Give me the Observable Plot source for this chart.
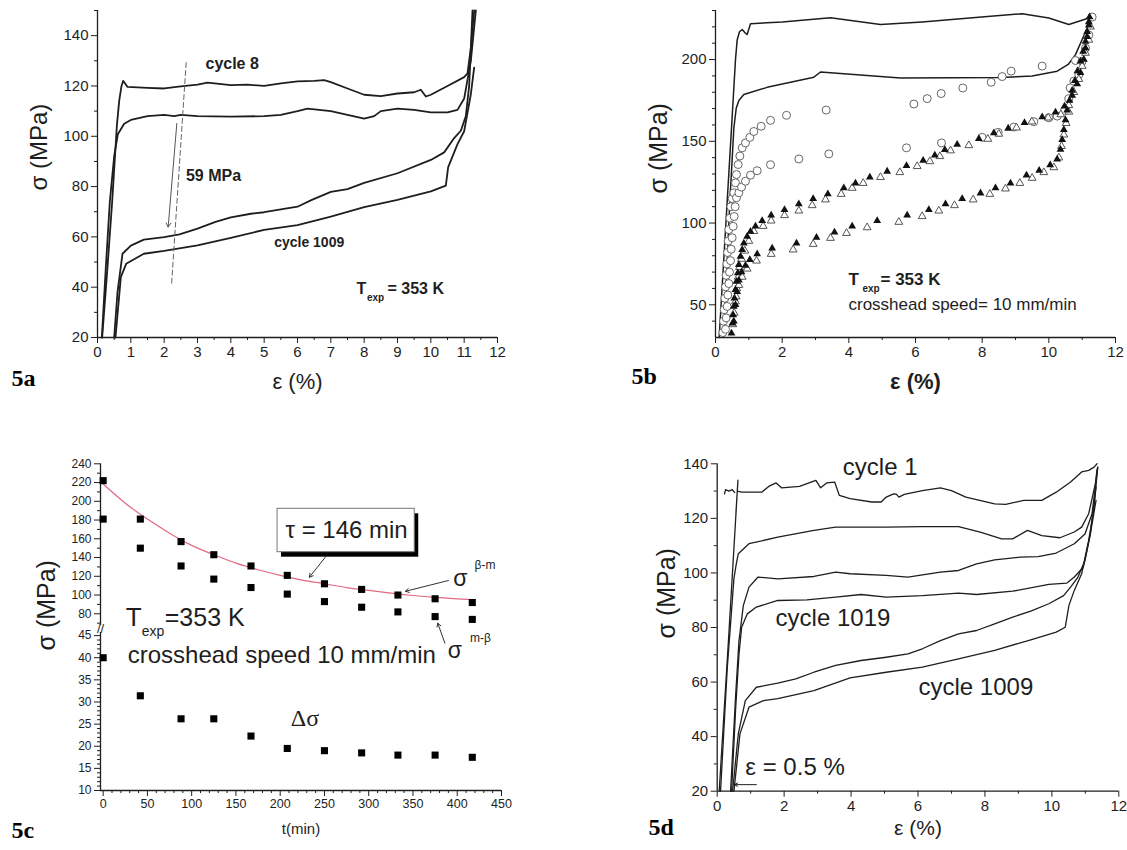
<!DOCTYPE html>
<html><head><meta charset="utf-8">
<script src="https://cdn.jsdelivr.net/npm/d3@7"></script>
<script src="https://cdn.jsdelivr.net/npm/@observablehq/plot@0.6"></script>
<style>
body{margin:0;background:#fff;}
#root{position:relative;width:1127px;height:850px;overflow:hidden;background:#fff;}
.panel{position:absolute;}
.panel svg{overflow:visible;}
</style></head><body><div id="root"></div>
<script>
// ---------------- Panel 5a : strain (%) vs stress (MPa) ----------------
const aTicksX = d3.range(0, 13, 1);
const aTicksXMinor = d3.range(0.5, 12, 1);
const aTicksY = [20, 40, 60, 80, 100, 120, 140];
const aTicksYMinor = [30, 50, 70, 90, 110, 130, 150];
const aCycle8Upper = [[0.14,20],[0.3,48],[0.44,74],[0.58,104],[0.65,114],[0.72,120],[0.77,122],[0.83,121],[0.9,119.6],[1.5,119.2],[2,119],[2.5,119.8],[3,120.5],[3.3,121.3],[4,120.3],[4.5,120.5],[5,120],[5.5,121],[6,121.8],[6.5,122],[6.8,122.3],[7,121.5],[7.5,119],[8,116.5],[8.5,116],[9,117],[9.5,117.5],[9.7,118.5],[9.85,115.8],[10,116.5],[10.5,120],[11,123.5],[11.1,125],[11.2,135],[11.3,150]];
const aCycle8Lower = [[0.13,20],[0.25,48],[0.37,74],[0.5,92],[0.61,100.8],[0.8,105],[1.0,106.5],[1.5,108],[2,108.5],[2.3,108],[2.5,108.5],[3,108],[4,107.8],[5,108],[5.5,108.5],[6,110],[6.3,111],[7,110],[7.5,108.5],[8,107],[8.3,108],[8.5,110],[9,111],[9.5,110.5],[10,109.5],[10.5,109.5],[10.8,110.5],[11,115],[11.2,130],[11.35,150]];
const aCycle1009Upper = [[0.5,20],[0.6,38],[0.75,53.3],[1.0,56.5],[1.39,58.9],[2.0,59.9],[2.46,61],[3.0,63.3],[3.54,66],[4.0,67.8],[4.6,69.2],[5.0,69.8],[6.0,72],[6.43,74.7],[7.0,77.9],[7.5,79],[8.0,81.5],[9.0,85.3],[10.0,90.6],[10.4,93.6],[10.7,99.3],[10.9,102.2],[11.05,108],[11.15,120],[11.25,150]];
const aCycle1009Lower = [[0.54,20],[0.7,44],[0.86,49.3],[1.39,53.3],[2.0,54.4],[3.0,56.6],[4.0,59.6],[5.0,62.8],[6.0,64.7],[7.0,68.1],[8.0,71.8],[9.0,74.7],[10.0,78.1],[10.45,80.4],[10.52,87.7],[10.6,90.3],[10.8,96.9],[11.0,102],[11.2,116.7],[11.3,127.3]];
const aDashedGuide = [[2.66,129.3],[2.22,40.7]];
const aDropArrow = [{x1:2.38, y1:105.1, x2:2.12, y2:63.9}];

// ---------------- Panel 5b ----------------
const bTicksX = [0, 2, 4, 6, 8, 10, 12];
const bTicksXMinor = [1, 3, 5, 7, 9, 11];
const bTicksY = [50, 100, 150, 200];
const bTicksYMinor = [40, 60, 70, 80, 90, 110, 120, 130, 140, 160, 170, 180, 190, 210, 220, 230];
const bLineUpper = [[0.11,30],[0.35,113],[0.5,165],[0.6,200],[0.65,212],[0.72,217],[0.8,218.4],[0.88,216.5],[0.95,215.3],[1.05,221.9],[2,223],[3.45,225.5],[4.95,221.4],[6.2,223],[8.25,226.5],[9.2,228],[10.0,225.4],[10.6,221.4],[11.2,225.4]];
const bLineLower = [[0.25,30],[0.43,113],[0.55,158],[0.62,170],[0.7,175],[0.85,178.6],[1.55,183],[2.95,189.2],[3.15,192.4],[5.55,188.7],[8.55,189],[9.5,190],[10.25,192.9],[10.58,197],[10.8,203],[11.24,223.4]];
const bCirclesUpper = [[0.22,33],[0.24,40],[0.26,47],[0.28,54],[0.3,61],[0.32,68],[0.34,75],[0.36,82],[0.38,89],[0.4,96],[0.43,103],[0.46,110],[0.5,115],[0.55,118.5],[0.6,124.6],[0.63,129.7],[0.68,135.8],[0.73,141],[0.8,146],[0.9,149],[1.03,152.4],[1.15,156],[1.37,159.2],[1.65,162.8],[2.13,165.9],[3.32,169.1],[5.95,172.8],[6.35,176.1],[6.77,179.2],[7.42,182.6],[8.27,186.1],[8.6,189.6],[8.87,192.9],[9.8,196],[10.8,199.4]];
const bCirclesLower = [[0.3,35],[0.32,42],[0.35,49],[0.37,56],[0.4,63],[0.42,70],[0.45,77],[0.47,84],[0.5,91],[0.53,98],[0.56,104],[0.59,110],[0.63,115.5],[0.7,118.5],[0.78,122],[0.9,125.6],[1.05,129.3],[1.25,132],[1.65,135.7],[2.5,139.2],[3.4,142.3],[5.73,146],[6.78,149],[8.0,152.4],[8.48,155.5],[8.95,158.7],[9.55,162],[10.0,164.4],[10.25,165.4],[10.47,168.5],[10.6,176],[10.64,182.7],[10.75,186.8],[10.9,190.8],[11.0,199],[11.1,207],[11.2,215],[11.3,226]];
const bFilledUpper = [[0.48,32.6],[0.51,38.7],[0.53,43.8],[0.55,48.9],[0.57,54],[0.6,59.2],[0.63,64.3],[0.67,69.4],[0.7,74.5],[0.75,79.6],[0.8,83.7],[0.85,87.7],[0.95,91.8],[1.05,94.9],[1.2,98],[1.4,101.4],[1.67,104.7],[2.07,108.1],[2.5,111.6],[2.93,114.9],[3.37,117.7],[3.85,121.4],[4.2,124.4],[4.63,128],[5.15,131.6],[5.73,135.1],[6.23,138.2],[6.58,141.4],[6.88,144.9],[7.25,148],[7.9,151.6],[8.35,155.1],[8.78,157.9],[9.27,161.3],[9.8,164.8],[10.2,167.8],[10.47,171.5],[10.7,178],[10.85,185],[10.95,192],[11.05,200],[11.1,207],[11.15,214],[11.2,221],[11.22,226]];
const bFilledLower = [[0.55,40],[0.6,50],[0.65,58],[0.7,65],[0.78,70],[0.9,74],[1.03,77.5],[1.25,81],[1.7,84.6],[2.43,87.7],[3.03,91.2],[3.57,94.4],[4.1,98],[4.85,101.4],[5.75,104.7],[6.4,108.1],[6.9,111.6],[7.4,114.9],[7.95,118.3],[8.4,121.4],[8.85,124.4],[9.33,129.2],[9.71,132.2],[10.04,135.5],[10.25,139],[10.35,145],[10.4,151],[10.45,157],[10.5,163],[10.55,169],[10.62,175],[10.7,181],[10.78,187],[10.86,193],[10.95,199],[11.03,205],[11.1,211],[11.15,217],[11.2,223]];
const bOpenUpper = [[0.52,38],[0.56,45],[0.6,52],[0.64,60],[0.68,67],[0.72,73],[0.78,78],[0.88,83],[1.0,89],[1.15,95],[1.43,98.1],[1.67,101.4],[2.07,104.7],[2.5,107.5],[2.9,110.8],[3.3,114.3],[3.77,117.7],[4.1,121.4],[4.43,124.4],[4.95,128],[5.53,131],[6.05,134.7],[6.43,137.7],[6.73,140.8],[7.05,144.3],[7.6,147.5],[8.17,151.4],[8.5,154.5],[9.03,158.3],[9.49,162],[9.98,164.4],[10.36,166.4],[10.6,172],[10.75,180],[10.9,188],[11.0,196],[11.1,204],[11.2,212],[11.25,220]];
const bOpenLower = [[0.62,55],[0.7,62],[0.8,67],[0.95,72],[1.23,76.9],[1.67,81],[2.33,83.7],[2.93,87.1],[3.45,90.8],[3.93,93.8],[4.55,97.3],[5.5,100.6],[6.2,104.1],[6.7,107.5],[7.17,110.8],[7.73,114.3],[8.23,117.7],[8.7,121],[9.13,124.4],[9.5,127.5],[9.85,131],[10.15,134],[10.3,140],[10.38,147],[10.45,154],[10.52,161],[10.6,168]];

// ---------------- Panel 5c : t (min) vs stress ----------------
const cTime = [0, 42, 88, 125, 167, 208, 250, 292, 333, 375, 417];
const cSigmaBetaM = [222, 181, 157, 143, 131, 121, 112, 106, 100, 96, 92];
const cSigmaMBeta = [181, 150, 131, 117, 108, 101, 93, 87, 82, 77, 74];
const cDeltaSigma = [40, 31.4, 26.2, 26.2, 22.3, 19.5, 19.0, 18.5, 18.0, 18.0, 17.5];
const cFitTime = [0, 25, 50, 75, 100, 125, 150, 175, 200, 225, 250, 275, 300, 325, 350, 375, 400, 417];
const cFitSigma = [218.5, 198, 181, 166, 153, 143, 134, 127, 121, 116, 112, 108, 105, 102, 99.5, 97.5, 96, 95];
const cTicksX = d3.range(0, 451, 50);
const cTicksXMinor = d3.range(10, 450, 10).filter(v => v % 50 !== 0);
const cTicksYTop = [80, 100, 120, 140, 160, 180, 200, 220, 240];
const cTicksYTopMinor = [70, 90, 110, 130, 150, 170, 190, 210, 230];
const cTicksYBottom = [10, 15, 20, 25, 30, 35, 40, 45];
const cTicksYBottomMinor = d3.range(11, 46, 1).filter(v => v % 5 !== 0);
const cBreak = [45.7, 67.5];

// ---------------- Panel 5d ----------------
const dTicksX = [0, 2, 4, 6, 8, 10, 12];
const dTicksXMinor = [1, 3, 5, 7, 9, 11];
const dTicksY = [20, 40, 60, 80, 100, 120, 140];
const dTicksYMinor = [30, 50, 70, 90, 110, 130];
const dCycle1 = [[0.06,20],[0.35,78],[0.62,134],[0.56,122],[0.6,130],[0.73,129.6],[1.33,129.6],[1.54,131.7],[1.76,133],[1.92,131.2],[2.46,131.7],[2.95,133.9],[3.09,131.2],[3.27,133],[3.51,133.3],[3.65,128.4],[3.97,127.2],[4.62,126],[4.9,126],[5.05,127.8],[5.27,129],[5.35,128.9],[5.43,127.8],[5.59,128.8],[6.13,130.2],[6.67,131.2],[7.0,130.2],[7.43,127.8],[8.29,125.3],[8.62,125.1],[9.16,126.6],[9.7,126.6],[10.13,129.6],[10.56,133.3],[10.89,137],[11.1,137.6],[11.26,138.8],[11.35,140]];
const dCycle1Start = [[0.22,129],[0.25,130.5],[0.35,130],[0.45,130.5],[0.52,129.5]];
const dCurve116 = [[0.1,20],[0.3,65],[0.5,98],[0.58,104],[0.63,107],[0.95,110.7],[1.81,113.1],[2.89,115.6],[3.54,116.8],[5.05,116.8],[6.13,117],[7.21,117],[7.86,115],[8.5,112.5],[8.83,112.5],[9.27,115.6],[9.7,113.7],[10.24,112.9],[10.67,115],[10.89,116.8],[11.1,121.7],[11.3,132.7],[11.35,138]];
const dCurve100 = [[0.4,20],[0.55,55],[0.65,75],[0.78,88],[0.95,94.8],[1.22,98.5],[1.81,97.8],[2.89,98.7],[3.54,100.3],[3.97,99.7],[5.05,99.1],[5.7,98.5],[6.67,100.3],[7.21,100.9],[7.75,103.3],[8.29,104.8],[9.05,105.8],[9.59,106],[10.13,107.3],[10.67,110.7],[10.99,114.3],[11.2,121.7],[11.37,138.8]];
const dCycle1019 = [[0.43,20],[0.55,50],[0.65,70],[0.73,80.1],[0.9,85],[1.17,87.5],[1.81,89.9],[2.68,90.1],[3.54,91.1],[4.3,92.1],[5.05,91.1],[6.13,91.7],[7.21,92.6],[7.75,92.1],[8.83,93.3],[9.91,95.8],[10.45,96.3],[10.67,98.5],[10.94,102.1],[11.15,114.3],[11.32,131.5]];
const dCycle1009Upper = [[0.46,20],[0.63,41],[0.84,53.2],[1.17,58.1],[1.81,59.6],[2.35,61.2],[2.89,63.6],[3.54,66.1],[4.3,67.9],[5.05,69.1],[5.7,70.3],[6.13,72.2],[6.67,75.2],[7.21,77.7],[7.75,78.9],[8.29,81.3],[8.83,83.8],[9.37,86],[9.91,88.7],[10.35,91.7],[10.56,94.8],[10.78,98.5],[10.99,104.6],[11.15,114.3],[11.32,126.6]];
const dCycle1009Lower = [[0.5,20],[0.68,41],[0.95,50.8],[1.38,53.2],[1.81,53.9],[2.89,56.9],[3.97,61.5],[5.05,63.6],[6.13,65.5],[7.21,68.5],[8.29,71.6],[9.37,75.5],[10.13,78.3],[10.4,80.1],[10.51,88.1],[10.67,93.6],[10.89,99.7],[11.1,111.9],[11.26,124.1],[11.37,138.8]];
const dStrainArrow = [{x1:1.17, y1:22.4, x2:0.52, y2:22.4}];

// ---------------- helpers ----------------
const SANS = "'Liberation Sans', Arial, sans-serif";
const SERIF = "'Liberation Serif', 'Times New Roman', serif";
const INK = "#1e1e1e";
const px = d => d[0], py = d => d[1];
const root = document.getElementById("root");
function place(svg, left, top) {
  const d = document.createElement("div");
  d.className = "panel";
  d.style.left = left + "px";
  d.style.top = top + "px";
  d.appendChild(svg);
  root.appendChild(d);
}
function axisMarks({xMajor, xMinor, yMajor, yMinor, xFont, yFont}) {
  return [
    Plot.axisX({ticks: xMajor, tickSize: 6, tickPadding: 3, fontSize: xFont, label: null, color: INK, tickFormat: d => String(d)}),
    Plot.axisX({ticks: xMinor, tickSize: 3, label: null, color: INK, tickFormat: () => ""}),
    Plot.axisY({ticks: yMajor, tickSize: 6, tickPadding: 3, fontSize: yFont, label: null, color: INK, tickFormat: d => String(d)}),
    Plot.axisY({ticks: yMinor, tickSize: 3, label: null, color: INK, tickFormat: () => ""})
  ];
}
const baseStyle = {fontFamily: SANS, fontSize: "15px", color: INK, background: "transparent", overflow: "visible"};

// ---------------- 5a ----------------
place(Plot.plot({
  width: 560, height: 400,
  marginLeft: 97, marginRight: 63, marginTop: 10, marginBottom: 63,
  x: {domain: [0, 12]}, y: {domain: [20, 150]},
  style: baseStyle,
  marks: [
    ...axisMarks({xMajor: aTicksX, xMinor: aTicksXMinor, yMajor: aTicksY, yMinor: aTicksYMinor, xFont: 15, yFont: 15}),
    Plot.ruleY([20], {stroke: INK, strokeWidth: 1.3}),
    Plot.ruleX([0], {stroke: INK, strokeWidth: 1.3}),
    Plot.line(aCycle8Upper, {x: px, y: py, stroke: INK, strokeWidth: 1.8}),
    Plot.line(aCycle8Lower, {x: px, y: py, stroke: INK, strokeWidth: 1.8}),
    Plot.line(aCycle1009Upper, {x: px, y: py, stroke: INK, strokeWidth: 1.8}),
    Plot.line(aCycle1009Lower, {x: px, y: py, stroke: INK, strokeWidth: 1.8}),
    Plot.line(aDashedGuide, {x: px, y: py, stroke: "#666", strokeWidth: 1, strokeDasharray: "5,3"}),
    Plot.arrow(aDropArrow, {x1: "x1", y1: "y1", x2: "x2", y2: "y2", stroke: "#555", strokeWidth: 1, headLength: 7}),
    Plot.text(["cycle 8"], {x: 4.04, y: 128.6, fontSize: 16, fontWeight: "bold", fill: INK}),
    Plot.text(["59 MPa"], {x: 3.48, y: 84.3, fontSize: 16, fontWeight: "bold", fill: INK}),
    Plot.text(["cycle 1009"], {x: 6.35, y: 57.8, fontSize: 14, fontWeight: "bold", fill: INK}),
    Plot.text(["T"], {x: 7.77, y: 39.3, textAnchor: "start", fontSize: 16, fontWeight: "bold", fill: INK}),
    Plot.text(["exp"], {x: 7.77, y: 39.3, dx: 10.5, dy: 8.5, textAnchor: "start", fontSize: 10, fontWeight: "bold", fill: INK}),
    Plot.text(["= 353 K"], {x: 7.77, y: 39.3, dx: 31, textAnchor: "start", fontSize: 16, fontWeight: "bold", fill: INK}),
    Plot.text(["ε (%)"], {frameAnchor: "bottom", dy: 51, fontSize: 22, fill: INK}),
    Plot.text(["σ (MPa)"], {frameAnchor: "left", dx: -58, dy: 16.5, rotate: -90, fontSize: 24, fill: INK}),
    Plot.text(["5a"], {frameAnchor: "bottom-left", dx: -86, dy: 48, textAnchor: "start", fontSize: 24, fontWeight: "bold", fontFamily: SERIF, fill: "#000"})
  ]
}), 0, 0);

// ---------------- 5b ----------------
place(Plot.plot({
  width: 567, height: 400,
  marginLeft: 155, marginRight: 12, marginTop: 10, marginBottom: 63,
  x: {domain: [0, 12]}, y: {domain: [30, 230]},
  style: baseStyle,
  marks: [
    ...axisMarks({xMajor: bTicksX, xMinor: bTicksXMinor, yMajor: bTicksY, yMinor: bTicksYMinor, xFont: 15, yFont: 15}),
    Plot.ruleY([30], {stroke: INK, strokeWidth: 1.3}),
    Plot.ruleX([0], {stroke: INK, strokeWidth: 1.3}),
    Plot.line(bLineUpper, {x: px, y: py, stroke: INK, strokeWidth: 1.5}),
    Plot.line(bLineLower, {x: px, y: py, stroke: INK, strokeWidth: 1.5}),
    Plot.dot(bCirclesUpper, {x: px, y: py, r: 4, stroke: "#666", strokeWidth: 1, fill: "white"}),
    Plot.dot(bCirclesLower, {x: px, y: py, r: 4, stroke: "#666", strokeWidth: 1, fill: "white"}),
    Plot.dot(bOpenUpper, {x: px, y: py, symbol: "triangle", r: 2.9, stroke: "#555", strokeWidth: 1, fill: "white"}),
    Plot.dot(bOpenLower, {x: px, y: py, symbol: "triangle", r: 2.9, stroke: "#555", strokeWidth: 1, fill: "white"}),
    Plot.dot(bFilledUpper, {x: px, y: py, symbol: "triangle", r: 2.9, fill: "#111", stroke: "none"}),
    Plot.dot(bFilledLower, {x: px, y: py, symbol: "triangle", r: 2.9, fill: "#111", stroke: "none"}),
    Plot.text(["T"], {x: 3.99, y: 65.5, textAnchor: "start", fontSize: 17, fontWeight: "bold", fill: INK}),
    Plot.text(["exp"], {x: 3.99, y: 65.5, dx: 14, dy: 9, textAnchor: "start", fontSize: 10, fontWeight: "bold", fill: INK}),
    Plot.text(["= 353 K"], {x: 3.99, y: 65.5, dx: 32, textAnchor: "start", fontSize: 17, fontWeight: "bold", fill: INK}),
    Plot.text(["crosshead speed= 10 mm/min"], {x: 3.99, y: 50.2, textAnchor: "start", fontSize: 17, fill: INK}),
    Plot.text(["ε (%)"], {frameAnchor: "bottom", dy: 51, fontSize: 22, fontWeight: "bold", fill: INK}),
    Plot.text(["σ (MPa)"], {frameAnchor: "left", dx: -57, dy: 19.5, rotate: -90, fontSize: 25, fill: INK}),
    Plot.text(["5b"], {frameAnchor: "bottom-left", dx: -84, dy: 46, textAnchor: "start", fontSize: 24, fontWeight: "bold", fontFamily: SERIF, fill: "#000"})
  ]
}), 560, 0);

// ---------------- 5c ----------------
const cRows = cTime.map((t, i) => ({t, bm: cSigmaBetaM[i], mb: cSigmaMBeta[i], ds: cDeltaSigma[i]}));
const cFit = cFitTime.map((t, i) => ({t, s: cFitSigma[i]}));
place(Plot.plot({
  width: 560, height: 410,
  marginLeft: 100, marginRight: 59, marginTop: 23, marginBottom: 60,
  x: {domain: [-3, 450]},
  y: {type: "linear", domain: [10, cBreak[0], cBreak[1], 240], range: [350, 192, 185, 23.3]},
  style: baseStyle,
  marks: [
    ...axisMarks({xMajor: cTicksX, xMinor: cTicksXMinor, yMajor: cTicksYBottom.concat(cTicksYTop), yMinor: cTicksYBottomMinor.concat(cTicksYTopMinor), xFont: 12.5, yFont: 12}),
    Plot.ruleY([10], {stroke: INK, strokeWidth: 1.3}),
    Plot.ruleX([-3], {y1: 10, y2: cBreak[0], stroke: INK, strokeWidth: 1.3}),
    Plot.ruleX([-3], {y1: cBreak[1], y2: 240, stroke: INK, strokeWidth: 1.3}),
    Plot.text(["//"], {x: -3, y: (cBreak[0] + cBreak[1]) / 2, fontSize: 13, fill: INK}),
    Plot.line(cFit, {x: "t", y: "s", stroke: "#e26a80", strokeWidth: 1.2, curve: "natural"}),
    Plot.dot(cRows, {x: "t", y: "bm", symbol: "square", r: 4, fill: "#000"}),
    Plot.dot(cRows, {x: "t", y: "mb", symbol: "square", r: 4, fill: "#000"}),
    Plot.dot(cRows, {x: "t", y: "ds", symbol: "square", r: 4, fill: "#000"}),
    Plot.rect([{x1: 197, x2: 352, y1: 145.7, y2: 192}], {x1: "x1", x2: "x2", y1: "y1", y2: "y2", fill: "#000", dx: 4, dy: 5}),
    Plot.rect([{x1: 197, x2: 352, y1: 145.7, y2: 192}], {x1: "x1", x2: "x2", y1: "y1", y2: "y2", fill: "white", stroke: "#777", strokeWidth: 1}),
    Plot.text(["τ = 146 min"], {x: 275, y: 168.9, fontSize: 24, fill: INK}),
    Plot.arrow([{x1: 251, y1: 140.4, x2: 233, y2: 119}], {x1: "x1", y1: "y1", x2: "x2", y2: "y2", stroke: "#333", strokeWidth: 1, headLength: 6}),
    Plot.text(["σ"], {x: 403.6, y: 117.7, fontSize: 23, fill: INK}),
    Plot.text(["β-m"], {x: 431.3, y: 131.5, fontSize: 12, fill: INK}),
    Plot.arrow([{x1: 390, y1: 115.5, x2: 341.5, y2: 104}], {x1: "x1", y1: "y1", x2: "x2", y2: "y2", stroke: "#333", strokeWidth: 1, headLength: 6}),
    Plot.text(["σ"], {x: 397.4, y: 41.6, fontSize: 23, fill: INK}),
    Plot.text(["m-β"], {x: 426.2, y: 44.5, fontSize: 12, fill: INK}),
    Plot.arrow([{x1: 386, y1: 43.3, x2: 378, y2: 70}], {x1: "x1", y1: "y1", x2: "x2", y2: "y2", stroke: "#333", strokeWidth: 1, headLength: 6}),
    Plot.text(["T"], {x: 25.5, y: 75.5, textAnchor: "start", fontSize: 26, fill: INK}),
    Plot.text(["exp"], {x: 25.5, y: 75.5, dx: 16, dy: 14, textAnchor: "start", fontSize: 14, fill: INK}),
    Plot.text(["=353 K"], {x: 25.5, y: 75.5, dx: 39, textAnchor: "start", fontSize: 25, fill: INK}),
    Plot.text(["crosshead speed 10 mm/min"], {x: 27.8, y: 40.5, textAnchor: "start", fontSize: 24, fill: INK}),
    Plot.text(["Δσ"], {x: 228, y: 26.3, fontSize: 24, fontFamily: SERIF, fill: INK}),
    Plot.text(["t(min)"], {frameAnchor: "bottom", dy: 43, fontSize: 15, fill: INK}),
    Plot.text(["σ (MPa)"], {frameAnchor: "left", dx: -54, dy: 23.5, rotate: -90, fontSize: 25, fill: INK}),
    Plot.text(["5c"], {frameAnchor: "bottom-left", dx: -89, dy: 47, textAnchor: "start", fontSize: 24, fontWeight: "bold", fontFamily: SERIF, fill: "#000"})
  ]
}), 0, 440);

// ---------------- 5d ----------------
place(Plot.plot({
  width: 567, height: 410,
  marginLeft: 156.7, marginRight: 8.7, marginTop: 23.3, marginBottom: 59.3,
  x: {domain: [0, 12]}, y: {domain: [20, 140]},
  style: baseStyle,
  marks: [
    ...axisMarks({xMajor: dTicksX, xMinor: dTicksXMinor, yMajor: dTicksY, yMinor: dTicksYMinor, xFont: 15, yFont: 15}),
    Plot.ruleY([20], {stroke: INK, strokeWidth: 1.3}),
    Plot.ruleX([0], {stroke: INK, strokeWidth: 1.3}),
    Plot.line(dCycle1, {x: px, y: py, stroke: INK, strokeWidth: 1.3}),
    Plot.line(dCycle1Start, {x: px, y: py, stroke: INK, strokeWidth: 1.3}),
    Plot.line(dCurve116, {x: px, y: py, stroke: INK, strokeWidth: 1.3}),
    Plot.line(dCurve100, {x: px, y: py, stroke: INK, strokeWidth: 1.3}),
    Plot.line(dCycle1019, {x: px, y: py, stroke: INK, strokeWidth: 1.3}),
    Plot.line(dCycle1009Upper, {x: px, y: py, stroke: INK, strokeWidth: 1.3}),
    Plot.line(dCycle1009Lower, {x: px, y: py, stroke: INK, strokeWidth: 1.3}),
    Plot.arrow(dStrainArrow, {x1: "x1", y1: "y1", x2: "x2", y2: "y2", stroke: INK, strokeWidth: 1, headLength: 5}),
    Plot.text(["cycle 1"], {x: 4.87, y: 138.8, fontSize: 24, fill: INK}),
    Plot.text(["cycle 1019"], {x: 3.46, y: 83.2, fontSize: 24, fill: INK}),
    Plot.text(["cycle 1009"], {x: 7.73, y: 58.1, fontSize: 24, fill: INK}),
    Plot.text(["ε = 0.5 %"], {x: 0.84, y: 28.8, textAnchor: "start", fontSize: 24, fill: INK}),
    Plot.text(["ε (%)"], {frameAnchor: "bottom", dy: 44, fontSize: 21, fill: INK}),
    Plot.text(["σ (MPa)"], {frameAnchor: "left", dx: -50, dy: 11, rotate: -90, fontSize: 25, fill: INK}),
    Plot.text(["5d"], {frameAnchor: "bottom-left", dx: -68.7, dy: 44, textAnchor: "start", fontSize: 24, fontWeight: "bold", fontFamily: SERIF, fill: "#000"})
  ]
}), 560, 440);
</script>
</body></html>
